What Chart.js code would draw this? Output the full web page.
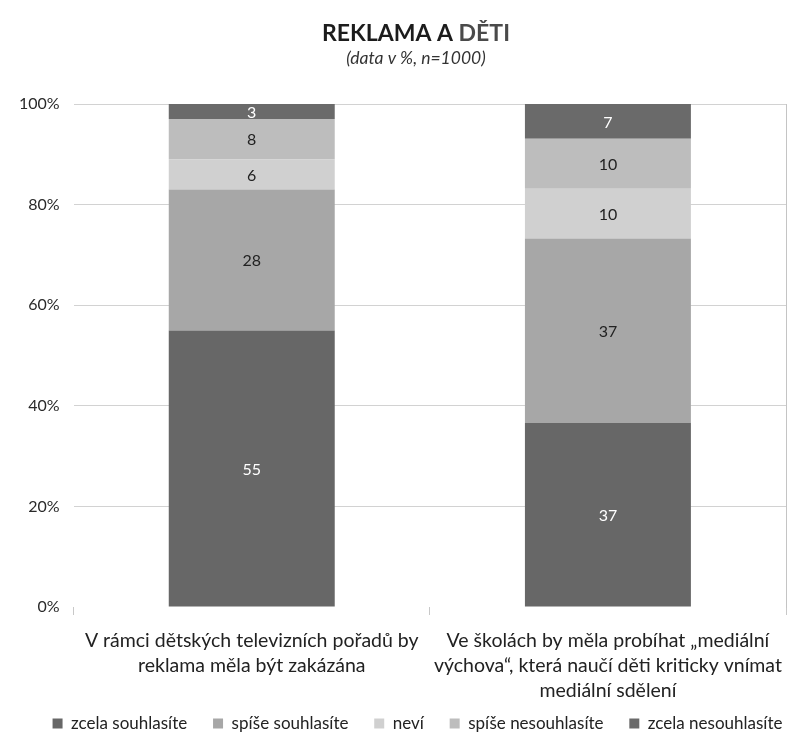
<!DOCTYPE html>
<html lang="cs">
<head>
<meta charset="utf-8">
<title>Reklama a děti</title>
<script src="https://cdn.jsdelivr.net/npm/chart.js@4/dist/chart.umd.min.js"></script>
<style>
  html, body { margin: 0; padding: 0; background: #ffffff; }
  #wrap { width: 789px; height: 737px; position: relative; }
</style>
</head>
<body>
<div id="wrap"><canvas id="chart" width="789" height="737"></canvas></div>
<script>
// Statements (categories), split into lines as printed under the axis
const categories = [
  ['V rámci dětských televizních pořadů by', 'reklama měla být zakázána'],
  ['Ve školách by měla probíhat „mediální', 'výchova“, která naučí děti kriticky vnímat', 'mediální sdělení']
];

// Answer shares in %, one array per answer option
const zcelaSouhlasite    = [55, 37];
const spiseSouhlasite    = [28, 37];
const nevi               = [6, 10];
const spiseNesouhlasite  = [8, 10];
const zcelaNesouhlasite  = [3, 7];

const seriesNames = ['zcela souhlasíte', 'spíše souhlasíte', 'neví', 'spíše nesouhlasíte', 'zcela nesouhlasíte'];
const seriesValues = [zcelaSouhlasite, spiseSouhlasite, nevi, spiseNesouhlasite, zcelaNesouhlasite];

// Value axis tick labels
const yTicks = [0, 20, 40, 60, 80, 100];

const colors = ['#676767', '#a7a7a7', '#d0d0d0', '#bdbdbd', '#6a6a6a'];
const labelColors = ['#ffffff', '#222222', '#222222', '#222222', '#ffffff'];

const FONT = 'Lato, "Open Sans", "DejaVu Sans", sans-serif';

// 100 % stacked: each column is scaled to its own total
const totals = categories.map((_, i) => seriesValues.reduce((s, arr) => s + arr[i], 0));

const datasets = seriesNames.map((name, k) => ({
  label: name,
  data: seriesValues[k].map((v, i) => v / totals[i] * 100),
  rawValues: seriesValues[k],
  backgroundColor: colors[k],
  borderWidth: 0,
  categoryPercentage: 1,
  barPercentage: 0.466
}));

// Title with the second word in a lighter tone, plus the subtitle
const titlePlugin = {
  id: 'twoToneTitle',
  afterDraw(chart) {
    const ctx = chart.ctx;
    ctx.save();
    const cx = 416;
    ctx.textBaseline = 'middle';
    ctx.font = 'bold 23px ' + FONT;
    const a = 'REKLAMA A ';
    const b = 'DĚTI';
    const wa = ctx.measureText(a).width;
    const wb = ctx.measureText(b).width;
    const x0 = cx - (wa + wb) / 2;
    ctx.textAlign = 'left';
    ctx.fillStyle = '#1c1c1c';
    ctx.fillText(a, x0, 34);
    ctx.fillStyle = '#4a4a4a';
    ctx.fillText(b, x0 + wa, 34);
    ctx.font = 'italic 17.5px ' + FONT;
    ctx.fillStyle = '#333333';
    ctx.textAlign = 'center';
    ctx.fillText('(data v %, n=1000)', cx, 58);
    ctx.restore();
  }
};

// Value labels centred in each stacked segment
const segmentLabels = {
  id: 'segmentLabels',
  afterDatasetsDraw(chart) {
    const ctx = chart.ctx;
    ctx.save();
    ctx.font = '16px ' + FONT;
    ctx.textAlign = 'center';
    ctx.textBaseline = 'middle';
    chart.data.datasets.forEach((ds, k) => {
      const meta = chart.getDatasetMeta(k);
      if (meta.hidden) return;
      meta.data.forEach((bar, i) => {
        const y = (bar.y + bar.base) / 2;
        ctx.fillStyle = labelColors[k];
        ctx.fillText(String(ds.rawValues[i]), bar.x, y + 1);
      });
    });
    ctx.restore();
  }
};

// Nudge the legend row a little to the right of the canvas centre
const legendShift = {
  id: 'legendShift',
  afterLayout(chart) {
    if (chart.legend) {
      chart.legend.left += 22;
      chart.legend.right += 22;
    }
  }
};

new Chart(document.getElementById('chart'), {
  type: 'bar',
  data: { labels: categories, datasets },
  plugins: [titlePlugin, segmentLabels, legendShift],
  options: {
    responsive: false,
    animation: false,
    layout: { padding: { top: 104, left: 5, right: 3, bottom: -5 } },
    plugins: {
      legend: {
        position: 'bottom',
        labels: {
          boxWidth: 10,
          boxHeight: 10,
          padding: 12,
          color: '#222222',
          font: { family: FONT, size: 17 },
          // a wider gap after every entry except the last one
          generateLabels(chart) {
            const items = Chart.defaults.plugins.legend.labels.generateLabels(chart);
            items.forEach((it, i) => { if (i < items.length - 1) it.text += '\u2003\u200A'; });
            return items;
          }
        }
      },
      tooltip: { enabled: false }
    },
    scales: {
      x: {
        stacked: true,
        offset: true,
        border: { display: false },
        grid: {
          offset: true,
          drawOnChartArea: false,
          drawTicks: true,
          tickLength: 21,
          tickBorderDash: [8, 40],
          color: '#c8c8c8'
        },
        ticks: {
          color: '#222222',
          font: { family: FONT, size: 19.5, lineHeight: 1.28 },
          maxRotation: 0,
          autoSkip: false,
          padding: 0
        }
      },
      y: {
        stacked: true,
        min: 0,
        max: 100,
        afterBuildTicks(axis) { axis.ticks = yTicks.map(v => ({ value: v })); },
        border: { display: false },
        grid: {
          drawTicks: false,
          color: ctx => (ctx.tick && ctx.tick.value === 0) ? 'rgba(0,0,0,0)' : '#d2d2d2'
        },
        ticks: {
          color: '#2a2a2a',
          font: { family: FONT, size: 16 },
          padding: 14,
          callback: v => v + '%'
        }
      },
      frame: {
        position: 'right',
        display: true,
        min: 0,
        max: 100,
        border: { display: true, color: '#c4c4c4', width: 1 },
        grid: { drawOnChartArea: false, drawTicks: false },
        ticks: { display: false }
      }
    }
  }
});
</script>
</body>
</html>
